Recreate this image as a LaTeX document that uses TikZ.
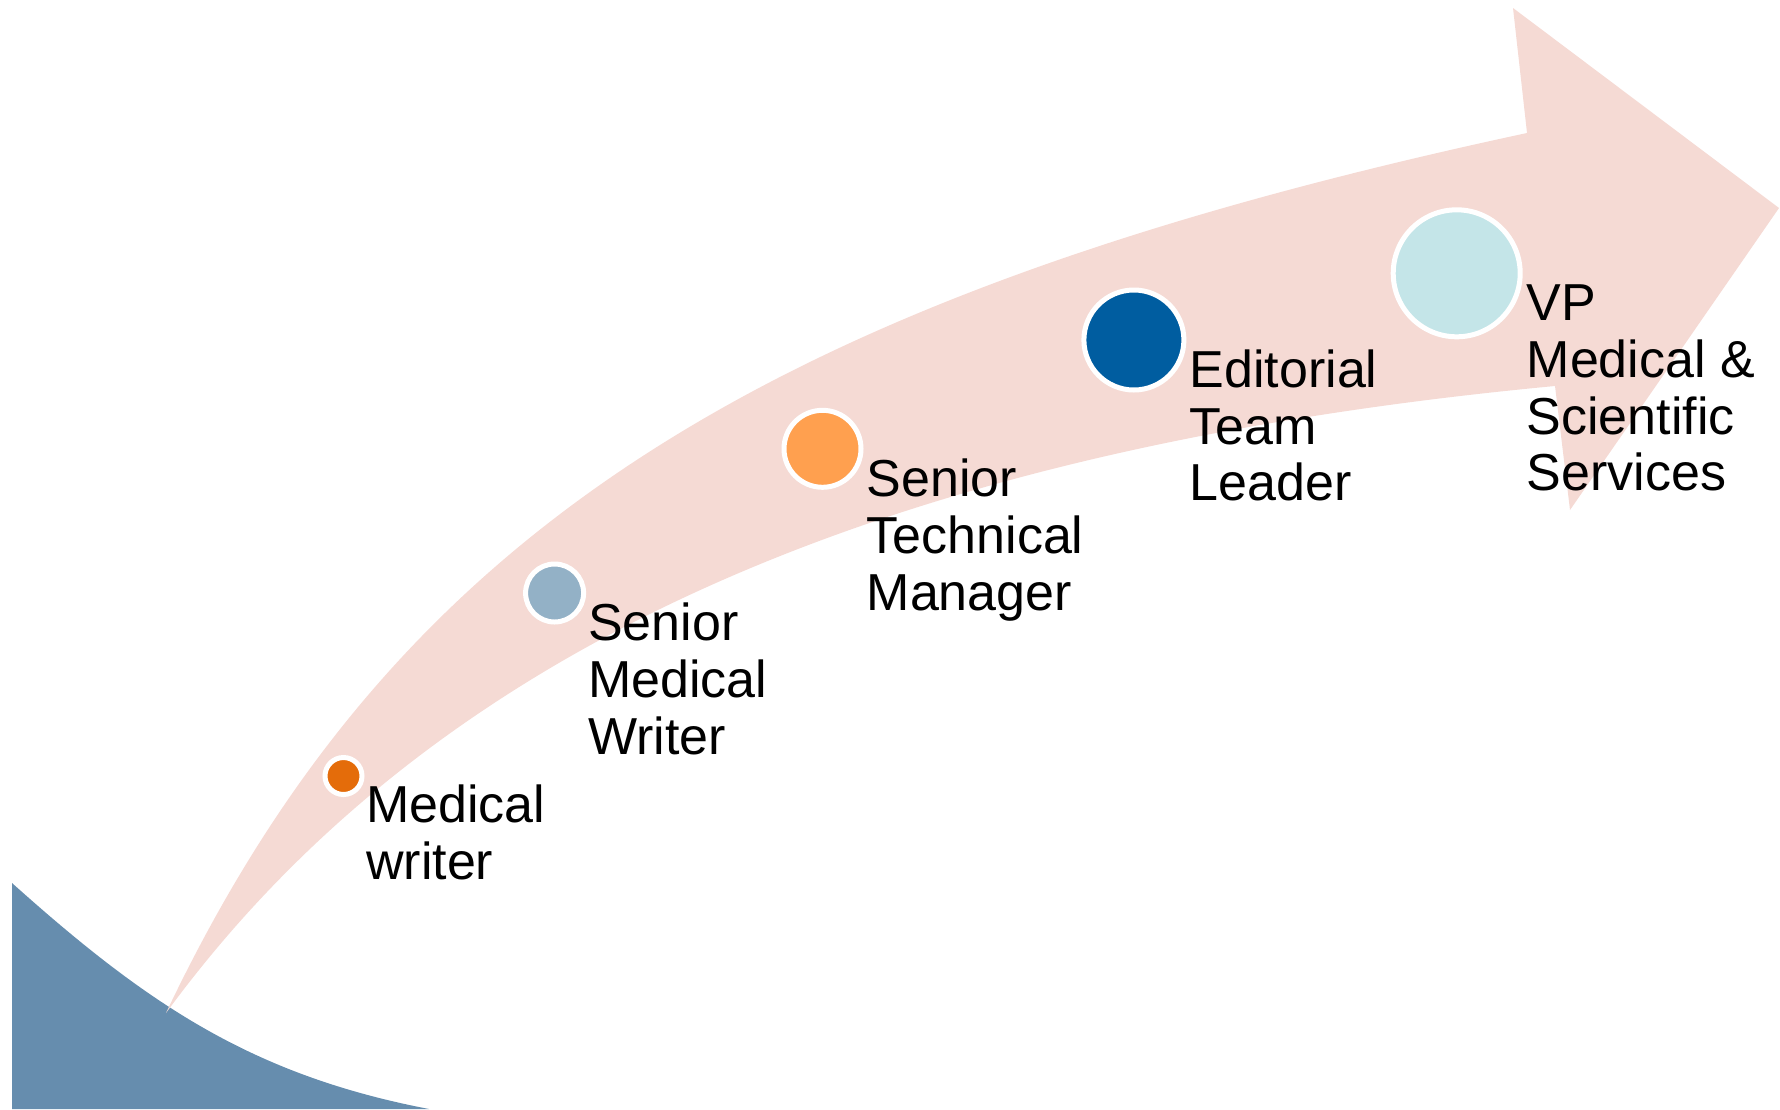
\documentclass[tikz,border=0pt]{standalone}
\usepackage{fontspec}
\setmainfont{Liberation Sans}
\definecolor{arrowpink}{HTML}{F5DAD4}
\definecolor{steelblue}{HTML}{668DAE}
\definecolor{cone}{HTML}{E46C0A}
\definecolor{ctwo}{HTML}{93B1C6}
\definecolor{cthree}{HTML}{FFA04F}
\definecolor{cfour}{HTML}{005DA0}
\definecolor{cfive}{HTML}{C4E5E8}
\begin{document}
\begin{tikzpicture}[x=1pt,y=-1pt,
  dot/.style={circle,draw=white,line width=5pt,inner sep=0pt},
  lbl/.style={anchor=base west,align=left,inner sep=0pt,font=\fontsize{52}{56.7}\selectfont}]
\useasboundingbox (0,0) rectangle (1780,1109);
% blue corner shape
\fill[steelblue] (12,883) .. controls (147,1004) and (252,1075) .. (429,1109) -- (12,1109) -- cycle;
% curved arrow
\fill[arrowpink] (166,1013) .. controls (394,533) and (762,297) .. (1527,133)
  -- (1513,8) -- (1779,208) -- (1570,510) -- (1555,386)
  .. controls (876,450) and (431,651) .. (166,1013) -- cycle;
% circles
\node[dot,fill=cone,minimum size=37pt] (d1) at (343.5,776) {};
\node[dot,fill=ctwo,minimum size=58pt] (d2) at (554.6,593) {};
\node[dot,fill=cthree,minimum size=77pt] (d3) at (822.5,448.8) {};
\node[dot,fill=cfour,minimum size=100pt] (d4) at (1133.9,340) {};
\node[dot,fill=cfive,minimum size=127pt] (d5) at (1456.7,273.3) {};
% labels (anchored at the baseline of the last line)
\node[lbl] (t1) at (366,879.5) {Medical\\writer};
\node[lbl] (t2) at (588,754) {Senior\\Medical\\Writer};
\node[lbl] (t3) at (866.5,610) {Senior\\Technical\\Manager};
\node[lbl] (t4) at (1189.5,500.7) {Editorial\\Team\\Leader};
\node[lbl] (t5) at (1526.5,490.8) {VP\\Medical \&\\Scientific\\Services};
\end{tikzpicture}
\end{document}
